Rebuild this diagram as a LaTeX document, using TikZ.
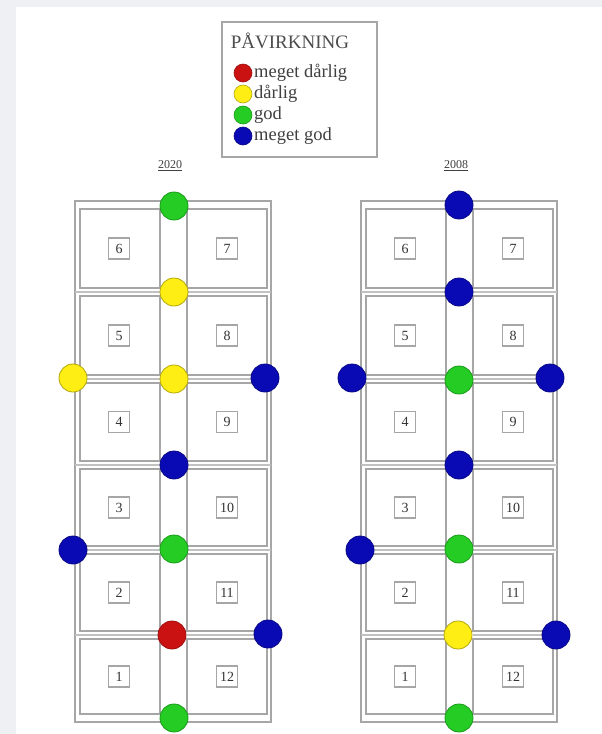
\documentclass[tikz,border=0pt]{standalone}
\usepackage{fontspec}
\setmainfont{Liberation Serif}
\definecolor{pagebg}{HTML}{EFF0F4}
\definecolor{framegray}{HTML}{A6A6A6}
\definecolor{dred}{HTML}{E01414}
\definecolor{dyellow}{HTML}{FFEE14}
\definecolor{dgreen}{HTML}{24CC24}
\definecolor{dblue}{HTML}{0A0AB4}
\tikzset{
  dot/.style={circle, minimum size=28pt, inner sep=0pt, line width=0.8pt},
  ldot/.style={circle, minimum size=18pt, inner sep=0pt, line width=0.6pt},
  cred/.style={fill=dred!90!black, draw=dred!70!black},
  cyel/.style={fill=dyellow, draw=dyellow!70!black},
  cgrn/.style={fill=dgreen, draw=dgreen!75!black},
  cblu/.style={fill=dblue, draw=dblue!75!black},
  numbox/.style={draw=framegray, line width=1.6pt, minimum size=21pt, inner sep=2pt,
    font=\fontsize{14}{14}\selectfont, text=black!80},
  cellbox/.style={draw=framegray, line width=1.6pt},
  frameline/.style={draw=framegray, line width=2pt},
  roadline/.style={draw=framegray!70, line width=2pt},
  legtext/.style={anchor=west, inner sep=0pt, font=\fontsize{18.5}{18.5}\selectfont, text=black!75},
  yeartext/.style={inner sep=0pt, font=\fontsize{12}{12}\selectfont, text=black!75}
}
\begin{document}
\begin{tikzpicture}[x=1pt,y=-1pt]
\fill[pagebg] (0,0) rectangle (602,734);
\fill[white] (16,7) rectangle (602,734);
\useasboundingbox (0,0) rectangle (602,734);

% legend
\draw[frameline] (222,22) rectangle (377,157);
\node[inner sep=0pt, font=\fontsize{19}{19}\selectfont, text=black!70] (legtitle) at (290,41) {PÅVIRKNING};
\node[ldot,cred] (lg1) at (243,73) {};
\node[ldot,cyel] (lg2) at (243,94) {};
\node[ldot,cgrn] (lg3) at (243,115) {};
\node[ldot,cblu] (lg4) at (243,136) {};
\node[legtext] (lt1) at (254,73) {meget dårlig};
\node[legtext] (lt2) at (254,94) {dårlig};
\node[legtext] (lt3) at (254,115) {god};
\node[legtext] (lt4) at (254,136) {meget god};

% year labels
\node[yeartext] (yearL) at (170,166) {\underline{2020}};
\node[yeartext] (yearR) at (456,166) {\underline{2008}};

% blocks
\foreach \bx/\nm in {75/L,361/R} {
  \draw[frameline] (\bx,201) rectangle (\bx+196,722);
  \foreach \yb in {292,379,465,550,635} {
    \draw[roadline] (\bx,\yb) -- (\bx+85,\yb);
    \draw[roadline] (\bx+112,\yb) -- (\bx+196,\yb);
  }
  \foreach \ya/\yb/\ln/\rn in {205/292/6/7, 292/379/5/8, 379/465/4/9, 465/550/3/10, 550/635/2/11, 635/718/1/12} {
    \draw[cellbox] (\bx+5,\ya+4) rectangle (\bx+85,\yb-4);
    \draw[cellbox] (\bx+112,\ya+4) rectangle (\bx+192,\yb-4);
    \node[numbox] (\nm c\ln) at (\bx+44,{(\ya+\yb)/2}) {\ln};
    \node[numbox] (\nm c\rn) at (\bx+152,{(\ya+\yb)/2}) {\rn};
  }
}

% dots, left block (2020)
\node[dot,cgrn] (La) at (174,206) {};
\node[dot,cyel] (Lb) at (174,292) {};
\node[dot,cyel] (Lc) at (174,379) {};
\node[dot,cyel] (Ld) at (73,378) {};
\node[dot,cblu] (Le) at (265,378) {};
\node[dot,cblu] (Lf) at (174,465) {};
\node[dot,cgrn] (Lg) at (174,549) {};
\node[dot,cblu] (Lh) at (73,550) {};
\node[dot,cred] (Li) at (172,635) {};
\node[dot,cblu] (Lj) at (268,634) {};
\node[dot,cgrn] (Lk) at (174,718) {};

% dots, right block (2008)
\node[dot,cblu] (Ra) at (459,205) {};
\node[dot,cblu] (Rb) at (459,292) {};
\node[dot,cgrn] (Rc) at (459,380) {};
\node[dot,cblu] (Rd) at (352,378) {};
\node[dot,cblu] (Re) at (550,378) {};
\node[dot,cblu] (Rf) at (459,465) {};
\node[dot,cgrn] (Rg) at (459,549) {};
\node[dot,cblu] (Rh) at (360,550) {};
\node[dot,cyel] (Ri) at (458,635) {};
\node[dot,cblu] (Rj) at (556,635) {};
\node[dot,cgrn] (Rk) at (459,718) {};
\end{tikzpicture}
\end{document}
